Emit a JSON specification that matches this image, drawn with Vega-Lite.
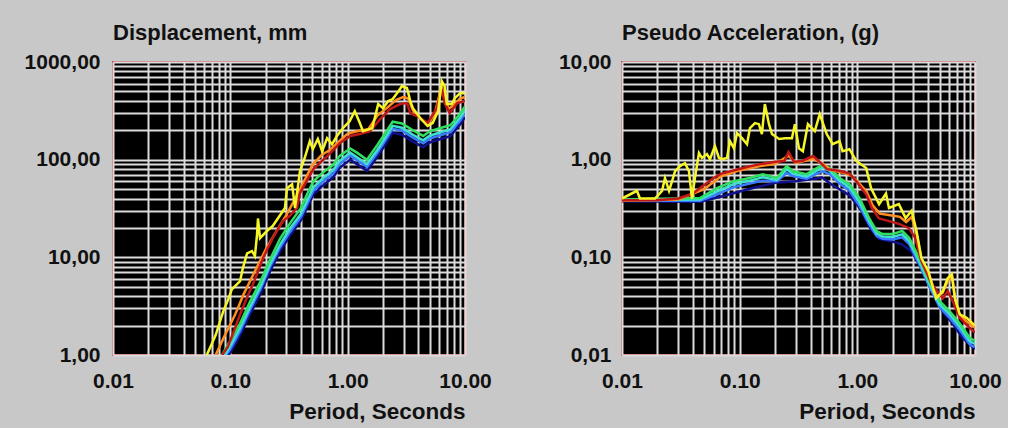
{
  "$schema": "https://vega.github.io/schema/vega-lite/v6.json",
  "background": "#c8c8c8",
  "padding": {"left": 23, "top": 21, "right": 5, "bottom": 5},
  "bounds": "flush",
  "spacing": 157,
  "config": {
    "view": {"fill": "#000000", "stroke": "#c85050", "strokeWidth": 2},
    "axis": {
      "labelFont": "Liberation Sans", "labelFontSize": 21, "labelFontWeight": "bold", "labelColor": "#111111",
      "ticks": false, "domain": false, "gridColor": "#dcdcdc", "gridWidth": 2, "gridOpacity": 1,
      "titleFont": "Liberation Sans", "titleFontSize": 22.5, "titleFontWeight": "bold", "titleColor": "#111111",
      "labelOverlap": false, "labelBound": false, "labelFlush": false
    },
    "title": {"font": "Liberation Sans", "fontSize": 22, "fontWeight": "bold", "color": "#111111", "anchor": "start", "frame": "group", "offset": 6}
  },
  "datasets": {
    "disp": [
      {"T":0.095,"v":1.0,"s":"navy"},{"T":0.1,"v":1.05,"s":"navy"},{"T":0.121,"v":1.6,"s":"navy"},{"T":0.147,"v":2.6,"s":"navy"},{"T":0.18,"v":4.2,"s":"navy"},{"T":0.218,"v":7.2,"s":"navy"},{"T":0.265,"v":11.5,"s":"navy"},{"T":0.32,"v":16.5,"s":"navy"},{"T":0.4,"v":24,"s":"navy"},{"T":0.45,"v":32,"s":"navy"},{"T":0.51,"v":44,"s":"navy"},{"T":0.6,"v":53,"s":"navy"},{"T":0.67,"v":59,"s":"navy"},{"T":0.75,"v":66,"s":"navy"},{"T":0.86,"v":83,"s":"navy"},{"T":1.05,"v":100,"s":"navy"},{"T":1.2,"v":90,"s":"navy"},{"T":1.46,"v":77,"s":"navy"},{"T":1.78,"v":106,"s":"navy"},{"T":2.17,"v":153,"s":"navy"},{"T":2.42,"v":189,"s":"navy"},{"T":2.9,"v":180,"s":"navy"},{"T":3.6,"v":153,"s":"navy"},{"T":4.4,"v":134,"s":"navy"},{"T":5.0,"v":150,"s":"navy"},{"T":6.1,"v":162,"s":"navy"},{"T":7.5,"v":174,"s":"navy"},{"T":9.1,"v":230,"s":"navy"},{"T":10,"v":272,"s":"navy"},
      {"T":0.092,"v":1.0,"s":"blue"},{"T":0.1,"v":1.15,"s":"blue"},{"T":0.121,"v":1.75,"s":"blue"},{"T":0.147,"v":2.9,"s":"blue"},{"T":0.18,"v":4.7,"s":"blue"},{"T":0.218,"v":8.0,"s":"blue"},{"T":0.265,"v":12.6,"s":"blue"},{"T":0.32,"v":18,"s":"blue"},{"T":0.4,"v":26,"s":"blue"},{"T":0.45,"v":35,"s":"blue"},{"T":0.51,"v":48,"s":"blue"},{"T":0.6,"v":58,"s":"blue"},{"T":0.67,"v":65,"s":"blue"},{"T":0.75,"v":72,"s":"blue"},{"T":0.86,"v":91,"s":"blue"},{"T":1.05,"v":110,"s":"blue"},{"T":1.2,"v":99,"s":"blue"},{"T":1.46,"v":84,"s":"blue"},{"T":1.78,"v":116,"s":"blue"},{"T":2.17,"v":168,"s":"blue"},{"T":2.42,"v":207,"s":"blue"},{"T":2.9,"v":198,"s":"blue"},{"T":3.6,"v":168,"s":"blue"},{"T":4.4,"v":147,"s":"blue"},{"T":5.0,"v":164,"s":"blue"},{"T":6.1,"v":177,"s":"blue"},{"T":7.5,"v":191,"s":"blue"},{"T":9.1,"v":252,"s":"blue"},{"T":10,"v":300,"s":"blue"},
      {"T":0.09,"v":1.0,"s":"cyan"},{"T":0.1,"v":1.25,"s":"cyan"},{"T":0.121,"v":1.9,"s":"cyan"},{"T":0.147,"v":3.1,"s":"cyan"},{"T":0.18,"v":5.0,"s":"cyan"},{"T":0.218,"v":8.5,"s":"cyan"},{"T":0.265,"v":13.5,"s":"cyan"},{"T":0.32,"v":19.5,"s":"cyan"},{"T":0.4,"v":28,"s":"cyan"},{"T":0.45,"v":38,"s":"cyan"},{"T":0.51,"v":52,"s":"cyan"},{"T":0.6,"v":63,"s":"cyan"},{"T":0.67,"v":70,"s":"cyan"},{"T":0.75,"v":78,"s":"cyan"},{"T":0.86,"v":98,"s":"cyan"},{"T":1.05,"v":118,"s":"cyan"},{"T":1.2,"v":106,"s":"cyan"},{"T":1.46,"v":90,"s":"cyan"},{"T":1.78,"v":125,"s":"cyan"},{"T":2.17,"v":180,"s":"cyan"},{"T":2.42,"v":222,"s":"cyan"},{"T":2.9,"v":212,"s":"cyan"},{"T":3.6,"v":180,"s":"cyan"},{"T":4.4,"v":158,"s":"cyan"},{"T":5.0,"v":176,"s":"cyan"},{"T":6.1,"v":190,"s":"cyan"},{"T":7.5,"v":205,"s":"cyan"},{"T":9.1,"v":270,"s":"cyan"},{"T":10,"v":320,"s":"cyan"},
      {"T":0.085,"v":1.0,"s":"green"},{"T":0.1,"v":1.4,"s":"green"},{"T":0.121,"v":2.1,"s":"green"},{"T":0.147,"v":3.5,"s":"green"},{"T":0.18,"v":5.6,"s":"green"},{"T":0.218,"v":9.5,"s":"green"},{"T":0.265,"v":15.5,"s":"green"},{"T":0.32,"v":22,"s":"green"},{"T":0.4,"v":32,"s":"green"},{"T":0.45,"v":44,"s":"green"},{"T":0.51,"v":60,"s":"green"},{"T":0.6,"v":72,"s":"green"},{"T":0.67,"v":80,"s":"green"},{"T":0.75,"v":88,"s":"green"},{"T":0.86,"v":110,"s":"green"},{"T":1.05,"v":130,"s":"green"},{"T":1.2,"v":118,"s":"green"},{"T":1.46,"v":100,"s":"green"},{"T":1.78,"v":140,"s":"green"},{"T":2.17,"v":200,"s":"green"},{"T":2.42,"v":245,"s":"green"},{"T":2.9,"v":235,"s":"green"},{"T":3.6,"v":200,"s":"green"},{"T":4.4,"v":175,"s":"green"},{"T":5.0,"v":195,"s":"green"},{"T":6.1,"v":210,"s":"green"},{"T":7.5,"v":225,"s":"green"},{"T":9.1,"v":295,"s":"green"},{"T":10,"v":350,"s":"green"},
      {"T":0.075,"v":1.0,"s":"orange"},{"T":0.09,"v":1.6,"s":"orange"},{"T":0.11,"v":2.6,"s":"orange"},{"T":0.13,"v":4.2,"s":"orange"},{"T":0.16,"v":7.0,"s":"orange"},{"T":0.2,"v":12,"s":"orange"},{"T":0.25,"v":19,"s":"orange"},{"T":0.3,"v":27,"s":"orange"},{"T":0.35,"v":38,"s":"orange"},{"T":0.4,"v":52,"s":"orange"},{"T":0.5,"v":88,"s":"orange"},{"T":0.6,"v":112,"s":"orange"},{"T":0.7,"v":125,"s":"orange"},{"T":0.85,"v":155,"s":"orange"},{"T":1.0,"v":185,"s":"orange"},{"T":1.2,"v":195,"s":"orange"},{"T":1.5,"v":205,"s":"orange"},{"T":1.8,"v":285,"s":"orange"},{"T":2.2,"v":345,"s":"orange"},{"T":2.6,"v":410,"s":"orange"},{"T":3.0,"v":440,"s":"orange"},{"T":3.3,"v":420,"s":"orange"},{"T":3.6,"v":320,"s":"orange"},{"T":4.2,"v":260,"s":"orange"},{"T":4.8,"v":230,"s":"orange"},{"T":5.5,"v":290,"s":"orange"},{"T":6.3,"v":560,"s":"orange"},{"T":6.7,"v":440,"s":"orange"},{"T":7.2,"v":330,"s":"orange"},{"T":8.0,"v":360,"s":"orange"},{"T":9.0,"v":420,"s":"orange"},{"T":10,"v":440,"s":"orange"},
      {"T":0.085,"v":1.0,"s":"red"},{"T":0.095,"v":1.2,"s":"red"},{"T":0.11,"v":1.9,"s":"red"},{"T":0.121,"v":2.6,"s":"red"},{"T":0.14,"v":4.0,"s":"red"},{"T":0.156,"v":5.3,"s":"red"},{"T":0.19,"v":9.8,"s":"red"},{"T":0.23,"v":15.8,"s":"red"},{"T":0.28,"v":23.5,"s":"red"},{"T":0.32,"v":26.5,"s":"red"},{"T":0.37,"v":32,"s":"red"},{"T":0.39,"v":45,"s":"red"},{"T":0.51,"v":80,"s":"red"},{"T":0.67,"v":109,"s":"red"},{"T":0.86,"v":148,"s":"red"},{"T":1.05,"v":175,"s":"red"},{"T":1.27,"v":183,"s":"red"},{"T":1.55,"v":196,"s":"red"},{"T":1.89,"v":260,"s":"red"},{"T":2.3,"v":330,"s":"red"},{"T":2.8,"v":371,"s":"red"},{"T":3.2,"v":380,"s":"red"},{"T":3.42,"v":300,"s":"red"},{"T":3.9,"v":280,"s":"red"},{"T":4.8,"v":237,"s":"red"},{"T":5.7,"v":330,"s":"red"},{"T":6.35,"v":528,"s":"red"},{"T":6.7,"v":380,"s":"red"},{"T":7.4,"v":300,"s":"red"},{"T":8.6,"v":380,"s":"red"},{"T":10,"v":400,"s":"red"},
      {"T":0.063,"v":1.0,"s":"yellow"},{"T":0.067,"v":1.18,"s":"yellow"},{"T":0.075,"v":1.6,"s":"yellow"},{"T":0.087,"v":2.8,"s":"yellow"},{"T":0.095,"v":3.6,"s":"yellow"},{"T":0.103,"v":4.7,"s":"yellow"},{"T":0.121,"v":5.7,"s":"yellow"},{"T":0.128,"v":7.8,"s":"yellow"},{"T":0.139,"v":11,"s":"yellow"},{"T":0.153,"v":11.6,"s":"yellow"},{"T":0.162,"v":10.3,"s":"yellow"},{"T":0.169,"v":17.3,"s":"yellow"},{"T":0.172,"v":25,"s":"yellow"},{"T":0.179,"v":15.7,"s":"yellow"},{"T":0.205,"v":18.6,"s":"yellow"},{"T":0.23,"v":21,"s":"yellow"},{"T":0.254,"v":25,"s":"yellow"},{"T":0.292,"v":32,"s":"yellow"},{"T":0.304,"v":51,"s":"yellow"},{"T":0.336,"v":56,"s":"yellow"},{"T":0.356,"v":32,"s":"yellow"},{"T":0.392,"v":76,"s":"yellow"},{"T":0.43,"v":104,"s":"yellow"},{"T":0.476,"v":155,"s":"yellow"},{"T":0.505,"v":128,"s":"yellow"},{"T":0.557,"v":163,"s":"yellow"},{"T":0.606,"v":122,"s":"yellow"},{"T":0.668,"v":166,"s":"yellow"},{"T":0.736,"v":144,"s":"yellow"},{"T":0.81,"v":175,"s":"yellow"},{"T":0.91,"v":210,"s":"yellow"},{"T":1.04,"v":248,"s":"yellow"},{"T":1.15,"v":314,"s":"yellow"},{"T":1.27,"v":237,"s":"yellow"},{"T":1.35,"v":196,"s":"yellow"},{"T":1.62,"v":210,"s":"yellow"},{"T":1.82,"v":371,"s":"yellow"},{"T":2.0,"v":337,"s":"yellow"},{"T":2.22,"v":398,"s":"yellow"},{"T":2.42,"v":417,"s":"yellow"},{"T":2.72,"v":504,"s":"yellow"},{"T":2.9,"v":566,"s":"yellow"},{"T":3.2,"v":541,"s":"yellow"},{"T":3.42,"v":398,"s":"yellow"},{"T":3.6,"v":337,"s":"yellow"},{"T":4.15,"v":267,"s":"yellow"},{"T":4.8,"v":221,"s":"yellow"},{"T":5.3,"v":237,"s":"yellow"},{"T":5.9,"v":314,"s":"yellow"},{"T":6.35,"v":637,"s":"yellow"},{"T":6.7,"v":566,"s":"yellow"},{"T":7.0,"v":371,"s":"yellow"},{"T":7.7,"v":371,"s":"yellow"},{"T":8.2,"v":427,"s":"yellow"},{"T":9.1,"v":480,"s":"yellow"},{"T":10,"v":480,"s":"yellow"}
    ],
    "psa": [
      {"T":0.01,"v":0.375,"s":"navy"},{"T":0.046,"v":0.37,"s":"navy"},{"T":0.07,"v":0.42,"s":"navy"},{"T":0.12,"v":0.5,"s":"navy"},{"T":0.2,"v":0.58,"s":"navy"},{"T":0.3,"v":0.6,"s":"navy"},{"T":0.45,"v":0.64,"s":"navy"},{"T":0.5,"v":0.66,"s":"navy"},{"T":0.6,"v":0.56,"s":"navy"},{"T":0.86,"v":0.43,"s":"navy"},{"T":1.07,"v":0.31,"s":"navy"},{"T":1.28,"v":0.2,"s":"navy"},{"T":1.53,"v":0.155,"s":"navy"},{"T":1.99,"v":0.145,"s":"navy"},{"T":2.41,"v":0.135,"s":"navy"},{"T":2.9,"v":0.114,"s":"navy"},{"T":3.5,"v":0.077,"s":"navy"},{"T":4.3,"v":0.045,"s":"navy"},{"T":5.3,"v":0.028,"s":"navy"},{"T":6.45,"v":0.021,"s":"navy"},{"T":7.9,"v":0.0148,"s":"navy"},{"T":10,"v":0.0115,"s":"navy"},
      {"T":0.01,"v":0.38,"s":"blue"},{"T":0.046,"v":0.38,"s":"blue"},{"T":0.064,"v":0.44,"s":"blue"},{"T":0.088,"v":0.52,"s":"blue"},{"T":0.122,"v":0.57,"s":"blue"},{"T":0.157,"v":0.61,"s":"blue"},{"T":0.207,"v":0.6,"s":"blue"},{"T":0.251,"v":0.73,"s":"blue"},{"T":0.283,"v":0.68,"s":"blue"},{"T":0.371,"v":0.64,"s":"blue"},{"T":0.452,"v":0.72,"s":"blue"},{"T":0.509,"v":0.76,"s":"blue"},{"T":0.584,"v":0.71,"s":"blue"},{"T":0.706,"v":0.57,"s":"blue"},{"T":0.857,"v":0.48,"s":"blue"},{"T":1.04,"v":0.34,"s":"blue"},{"T":1.26,"v":0.218,"s":"blue"},{"T":1.46,"v":0.165,"s":"blue"},{"T":1.64,"v":0.155,"s":"blue"},{"T":1.99,"v":0.152,"s":"blue"},{"T":2.41,"v":0.16,"s":"blue"},{"T":2.76,"v":0.137,"s":"blue"},{"T":3.36,"v":0.085,"s":"blue"},{"T":4.1,"v":0.05,"s":"blue"},{"T":5.0,"v":0.031,"s":"blue"},{"T":6.1,"v":0.024,"s":"blue"},{"T":7.42,"v":0.018,"s":"blue"},{"T":9.05,"v":0.0128,"s":"blue"},{"T":10,"v":0.012,"s":"blue"},
      {"T":0.01,"v":0.385,"s":"cyan"},{"T":0.046,"v":0.39,"s":"cyan"},{"T":0.064,"v":0.47,"s":"cyan"},{"T":0.088,"v":0.56,"s":"cyan"},{"T":0.122,"v":0.61,"s":"cyan"},{"T":0.157,"v":0.66,"s":"cyan"},{"T":0.207,"v":0.62,"s":"cyan"},{"T":0.251,"v":0.8,"s":"cyan"},{"T":0.283,"v":0.72,"s":"cyan"},{"T":0.371,"v":0.67,"s":"cyan"},{"T":0.452,"v":0.77,"s":"cyan"},{"T":0.509,"v":0.83,"s":"cyan"},{"T":0.584,"v":0.77,"s":"cyan"},{"T":0.706,"v":0.61,"s":"cyan"},{"T":0.857,"v":0.52,"s":"cyan"},{"T":1.04,"v":0.37,"s":"cyan"},{"T":1.26,"v":0.235,"s":"cyan"},{"T":1.46,"v":0.175,"s":"cyan"},{"T":1.64,"v":0.163,"s":"cyan"},{"T":1.99,"v":0.162,"s":"cyan"},{"T":2.41,"v":0.172,"s":"cyan"},{"T":2.76,"v":0.147,"s":"cyan"},{"T":3.36,"v":0.091,"s":"cyan"},{"T":4.1,"v":0.053,"s":"cyan"},{"T":5.0,"v":0.033,"s":"cyan"},{"T":6.1,"v":0.026,"s":"cyan"},{"T":7.42,"v":0.0195,"s":"cyan"},{"T":9.05,"v":0.0138,"s":"cyan"},{"T":10,"v":0.013,"s":"cyan"},
      {"T":0.01,"v":0.39,"s":"green"},{"T":0.046,"v":0.405,"s":"green"},{"T":0.0642,"v":0.51,"s":"green"},{"T":0.0876,"v":0.6,"s":"green"},{"T":0.122,"v":0.65,"s":"green"},{"T":0.157,"v":0.71,"s":"green"},{"T":0.207,"v":0.65,"s":"green"},{"T":0.251,"v":0.86,"s":"green"},{"T":0.283,"v":0.76,"s":"green"},{"T":0.371,"v":0.71,"s":"green"},{"T":0.452,"v":0.82,"s":"green"},{"T":0.509,"v":0.88,"s":"green"},{"T":0.584,"v":0.82,"s":"green"},{"T":0.706,"v":0.65,"s":"green"},{"T":0.857,"v":0.56,"s":"green"},{"T":1.04,"v":0.405,"s":"green"},{"T":1.26,"v":0.252,"s":"green"},{"T":1.46,"v":0.186,"s":"green"},{"T":1.64,"v":0.173,"s":"green"},{"T":1.99,"v":0.173,"s":"green"},{"T":2.41,"v":0.186,"s":"green"},{"T":2.76,"v":0.158,"s":"green"},{"T":3.36,"v":0.098,"s":"green"},{"T":4.1,"v":0.057,"s":"green"},{"T":5.0,"v":0.0357,"s":"green"},{"T":6.1,"v":0.028,"s":"green"},{"T":7.42,"v":0.021,"s":"green"},{"T":9.05,"v":0.0149,"s":"green"},{"T":10,"v":0.0139,"s":"green"},
      {"T":0.01,"v":0.38,"s":"orange"},{"T":0.03,"v":0.39,"s":"orange"},{"T":0.05,"v":0.5,"s":"orange"},{"T":0.07,"v":0.68,"s":"orange"},{"T":0.1,"v":0.78,"s":"orange"},{"T":0.15,"v":0.86,"s":"orange"},{"T":0.2,"v":0.9,"s":"orange"},{"T":0.26,"v":1.1,"s":"orange"},{"T":0.3,"v":0.92,"s":"orange"},{"T":0.42,"v":1.02,"s":"orange"},{"T":0.5,"v":0.92,"s":"orange"},{"T":0.6,"v":0.78,"s":"orange"},{"T":0.75,"v":0.74,"s":"orange"},{"T":0.9,"v":0.68,"s":"orange"},{"T":1.0,"v":0.6,"s":"orange"},{"T":1.2,"v":0.47,"s":"orange"},{"T":1.35,"v":0.34,"s":"orange"},{"T":1.55,"v":0.28,"s":"orange"},{"T":1.9,"v":0.27,"s":"orange"},{"T":2.3,"v":0.26,"s":"orange"},{"T":2.6,"v":0.23,"s":"orange"},{"T":2.9,"v":0.26,"s":"orange"},{"T":3.2,"v":0.17,"s":"orange"},{"T":3.5,"v":0.097,"s":"orange"},{"T":4.0,"v":0.07,"s":"orange"},{"T":4.7,"v":0.04,"s":"orange"},{"T":5.3,"v":0.043,"s":"orange"},{"T":5.9,"v":0.058,"s":"orange"},{"T":6.4,"v":0.064,"s":"orange"},{"T":6.8,"v":0.037,"s":"orange"},{"T":7.4,"v":0.026,"s":"orange"},{"T":8.5,"v":0.022,"s":"orange"},{"T":10,"v":0.019,"s":"orange"},
      {"T":0.01,"v":0.385,"s":"red"},{"T":0.02,"v":0.385,"s":"red"},{"T":0.03,"v":0.4,"s":"red"},{"T":0.04,"v":0.45,"s":"red"},{"T":0.05,"v":0.55,"s":"red"},{"T":0.06,"v":0.65,"s":"red"},{"T":0.07,"v":0.72,"s":"red"},{"T":0.09,"v":0.78,"s":"red"},{"T":0.12,"v":0.85,"s":"red"},{"T":0.15,"v":0.9,"s":"red"},{"T":0.2,"v":0.95,"s":"red"},{"T":0.24,"v":0.97,"s":"red"},{"T":0.26,"v":1.2,"s":"red"},{"T":0.29,"v":0.95,"s":"red"},{"T":0.34,"v":0.97,"s":"red"},{"T":0.42,"v":1.09,"s":"red"},{"T":0.47,"v":0.97,"s":"red"},{"T":0.55,"v":0.8,"s":"red"},{"T":0.7,"v":0.77,"s":"red"},{"T":0.86,"v":0.72,"s":"red"},{"T":0.98,"v":0.6,"s":"red"},{"T":1.19,"v":0.44,"s":"red"},{"T":1.33,"v":0.32,"s":"red"},{"T":1.53,"v":0.25,"s":"red"},{"T":1.86,"v":0.235,"s":"red"},{"T":2.25,"v":0.22,"s":"red"},{"T":2.73,"v":0.2,"s":"red"},{"T":3.1,"v":0.158,"s":"red"},{"T":3.5,"v":0.092,"s":"red"},{"T":4.3,"v":0.053,"s":"red"},{"T":5.33,"v":0.038,"s":"red"},{"T":5.86,"v":0.045,"s":"red"},{"T":6.45,"v":0.036,"s":"red"},{"T":7.42,"v":0.024,"s":"red"},{"T":9.0,"v":0.019,"s":"red"},{"T":10,"v":0.017,"s":"red"},
      {"T":0.01,"v":0.4,"s":"yellow"},{"T":0.0134,"v":0.48,"s":"yellow"},{"T":0.0142,"v":0.4,"s":"yellow"},{"T":0.017,"v":0.4,"s":"yellow"},{"T":0.0191,"v":0.4,"s":"yellow"},{"T":0.0219,"v":0.48,"s":"yellow"},{"T":0.0232,"v":0.65,"s":"yellow"},{"T":0.0251,"v":0.48,"s":"yellow"},{"T":0.0266,"v":0.6,"s":"yellow"},{"T":0.0282,"v":0.76,"s":"yellow"},{"T":0.0311,"v":0.86,"s":"yellow"},{"T":0.0343,"v":0.92,"s":"yellow"},{"T":0.0371,"v":0.76,"s":"yellow"},{"T":0.0393,"v":0.4,"s":"yellow"},{"T":0.0417,"v":0.65,"s":"yellow"},{"T":0.0451,"v":1.17,"s":"yellow"},{"T":0.0478,"v":1.04,"s":"yellow"},{"T":0.0527,"v":1.14,"s":"yellow"},{"T":0.0559,"v":1.01,"s":"yellow"},{"T":0.0616,"v":1.38,"s":"yellow"},{"T":0.0667,"v":1.04,"s":"yellow"},{"T":0.0707,"v":1.01,"s":"yellow"},{"T":0.078,"v":1.04,"s":"yellow"},{"T":0.0827,"v":1.55,"s":"yellow"},{"T":0.0894,"v":1.31,"s":"yellow"},{"T":0.095,"v":1.87,"s":"yellow"},{"T":0.1047,"v":1.66,"s":"yellow"},{"T":0.1154,"v":1.44,"s":"yellow"},{"T":0.1223,"v":2.11,"s":"yellow"},{"T":0.1349,"v":2.37,"s":"yellow"},{"T":0.1457,"v":2.31,"s":"yellow"},{"T":0.1545,"v":1.83,"s":"yellow"},{"T":0.1637,"v":3.71,"s":"yellow"},{"T":0.1775,"v":2.31,"s":"yellow"},{"T":0.1882,"v":1.83,"s":"yellow"},{"T":0.2165,"v":1.63,"s":"yellow"},{"T":0.2437,"v":1.66,"s":"yellow"},{"T":0.278,"v":1.66,"s":"yellow"},{"T":0.2947,"v":2.31,"s":"yellow"},{"T":0.319,"v":1.31,"s":"yellow"},{"T":0.3446,"v":1.22,"s":"yellow"},{"T":0.3802,"v":2.31,"s":"yellow"},{"T":0.4349,"v":1.96,"s":"yellow"},{"T":0.4791,"v":2.93,"s":"yellow"},{"T":0.5494,"v":1.83,"s":"yellow"},{"T":0.6174,"v":1.44,"s":"yellow"},{"T":0.7062,"v":1.55,"s":"yellow"},{"T":0.7487,"v":1.22,"s":"yellow"},{"T":0.8565,"v":1.28,"s":"yellow"},{"T":0.9804,"v":0.97,"s":"yellow"},{"T":1.189,"v":0.82,"s":"yellow"},{"T":1.309,"v":0.51,"s":"yellow"},{"T":1.531,"v":0.35,"s":"yellow"},{"T":1.752,"v":0.45,"s":"yellow"},{"T":1.857,"v":0.32,"s":"yellow"},{"T":2.253,"v":0.35,"s":"yellow"},{"T":2.576,"v":0.252,"s":"yellow"},{"T":2.894,"v":0.3,"s":"yellow"},{"T":3.184,"v":0.186,"s":"yellow"},{"T":3.504,"v":0.098,"s":"yellow"},{"T":4.01,"v":0.072,"s":"yellow"},{"T":4.67,"v":0.038,"s":"yellow"},{"T":5.33,"v":0.045,"s":"yellow"},{"T":5.86,"v":0.061,"s":"yellow"},{"T":6.34,"v":0.067,"s":"yellow"},{"T":6.75,"v":0.038,"s":"yellow"},{"T":7.42,"v":0.026,"s":"yellow"},{"T":8.49,"v":0.024,"s":"yellow"},{"T":10,"v":0.02,"s":"yellow"}
    ]
  },
  "hconcat": [
    {
      "width": 352, "height": 293,
      "title": {"text": "Displacement, mm"},
      "data": {"name": "disp"},
      "mark": {"type": "line", "strokeWidth": 2.5, "clip": true},
      "encoding": {
        "x": {"field": "T", "type": "quantitative",
          "scale": {"type": "log", "domain": [0.01, 10], "nice": false},
          "axis": {"values": [0.01,0.02,0.03,0.04,0.05,0.06,0.07,0.08,0.09,0.1,0.2,0.3,0.4,0.5,0.6,0.7,0.8,0.9,1,2,3,4,5,6,7,8,9,10],
            "labelExpr": "indexof([0.01,0.1,1,10], datum.value) >= 0 ? format(datum.value, '.2f') : ''",
            "labelPadding": 15, "title": "Period, Seconds", "titleAnchor": "end", "titlePadding": 9}},
        "y": {"field": "v", "type": "quantitative",
          "scale": {"type": "log", "domain": [1, 1000], "nice": false},
          "axis": {"values": [1,2,3,4,5,6,7,8,9,10,20,30,40,50,60,70,80,90,100,200,300,400,500,600,700,800,900,1000],
            "labelExpr": "indexof([1,10,100,1000], datum.value) >= 0 ? replace(format(datum.value, '.2f'), '.', ',') : ''",
            "labelPadding": 13, "title": null}},
        "color": {"field": "s", "type": "nominal", "legend": null,
          "scale": {"domain": ["navy","blue","cyan","green","orange","red","yellow"],
                    "range": ["#10108c","#3a7cff","#40e0d0","#30e060","#ff9020","#c01818","#f5f528"]}}
      }
    },
    {
      "width": 353, "height": 293,
      "title": {"text": "Pseudo Acceleration, (g)"},
      "data": {"name": "psa"},
      "mark": {"type": "line", "strokeWidth": 2.5, "clip": true},
      "encoding": {
        "x": {"field": "T", "type": "quantitative",
          "scale": {"type": "log", "domain": [0.01, 10], "nice": false},
          "axis": {"values": [0.01,0.02,0.03,0.04,0.05,0.06,0.07,0.08,0.09,0.1,0.2,0.3,0.4,0.5,0.6,0.7,0.8,0.9,1,2,3,4,5,6,7,8,9,10],
            "labelExpr": "indexof([0.01,0.1,1,10], datum.value) >= 0 ? format(datum.value, '.2f') : ''",
            "labelPadding": 15, "title": "Period, Seconds", "titleAnchor": "end", "titlePadding": 9}},
        "y": {"field": "v", "type": "quantitative",
          "scale": {"type": "log", "domain": [0.01, 10], "nice": false},
          "axis": {"values": [0.01,0.02,0.03,0.04,0.05,0.06,0.07,0.08,0.09,0.1,0.2,0.3,0.4,0.5,0.6,0.7,0.8,0.9,1,2,3,4,5,6,7,8,9,10],
            "labelExpr": "indexof([0.01,0.1,1,10], datum.value) >= 0 ? replace(format(datum.value, '.2f'), '.', ',') : ''",
            "labelPadding": 11, "title": null}},
        "color": {"field": "s", "type": "nominal", "legend": null,
          "scale": {"domain": ["navy","blue","cyan","green","orange","red","yellow"],
                    "range": ["#10108c","#3a7cff","#40e0d0","#30e060","#ff9020","#c01818","#f5f528"]}}
      }
    }
  ]
}
